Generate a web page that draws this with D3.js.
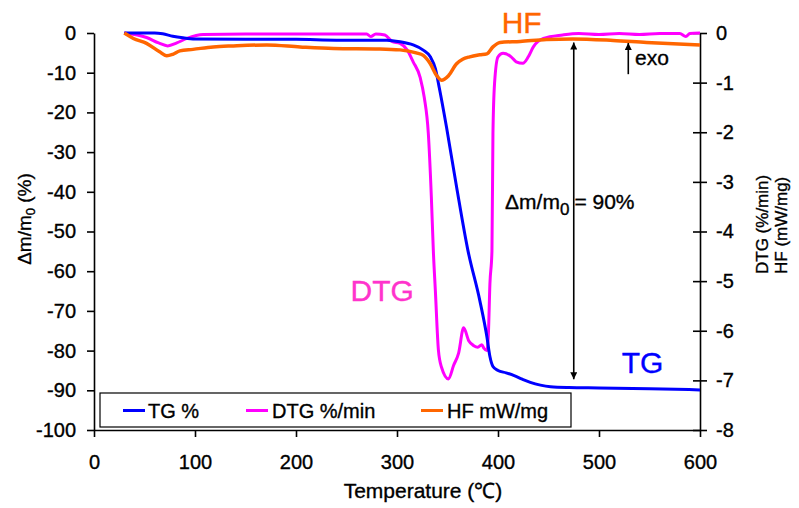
<!DOCTYPE html>
<html><head><meta charset="utf-8">
<script src="https://cdn.jsdelivr.net/npm/d3@7"></script>
<style>
body{margin:0;background:#fff}
svg{display:block}
text{font-family:"Liberation Sans",Arial,Helvetica,sans-serif}
</style>
</head><body>
<svg id="c" width="799" height="508"></svg>
<script>
// ---- data (temperature °C, value) ----
const xTicks = [0,100,200,300,400,500,600];
const leftTicks = [0,-10,-20,-30,-40,-50,-60,-70,-80,-90,-100];
const rightTicks = [0,-1,-2,-3,-4,-5,-6,-7,-8];

const tgData = [[30,0],[60,0],[68,-0.2],[78,-0.8],[88,-1.2],[100,-1.5],[150,-1.6],[200,-1.6],[240,-1.8],[290,-1.8],[303,-2.2],[316,-3.0],[326,-4.3],[333,-6.0],[338,-9.0],[342,-14],[349,-23.7],[359,-38.8],[370,-54.5],[382,-67.4],[389,-76.5],[392,-81.5],[395,-84.0],[400,-85.0],[408,-85.6],[416,-86.3],[424,-87.2],[432,-88.0],[442,-88.7],[452,-89.1],[470,-89.3],[500,-89.4],[550,-89.6],[600,-89.9]];

const dtgData = [[30,0],[52,-0.09],[64,-0.2],[73,-0.26],[82,-0.2],[92,-0.11],[108,-0.03],[150,-0.02],[200,-0.02],[250,-0.02],[270,-0.02],[274,-0.07],[279,-0.02],[288,-0.04],[295,-0.17],[303,-0.21],[310,-0.34],[316,-0.58],[323,-0.9],[327,-1.3],[331,-2.02],[334,-3.3],[336,-4.4],[338,-5.2],[341,-6.39],[344,-6.73],[351,-6.97],[356,-6.7],[361,-6.45],[366,-5.94],[371,-6.2],[376,-6.3],[380,-6.33],[384,-6.28],[386,-6.35],[389,-6.4],[390.5,-6.06],[392,-5.05],[394,-4.4],[395,-2.02],[396.6,-1.01],[400,-0.48],[405,-0.41],[413,-0.48],[418,-0.58],[424.6,-0.61],[430,-0.48],[435,-0.28],[445,-0.11],[464,-0.04],[480,-0.01],[500,-0.03],[520,-0.01],[540,-0.03],[560,-0.01],[580,-0.01],[586,-0.07],[590,-0.01],[600,0]];

const hfData = [[30,0],[39,-0.11],[52,-0.21],[65,-0.38],[72,-0.46],[78,-0.43],[85,-0.36],[98,-0.33],[118,-0.28],[138,-0.26],[171,-0.24],[204,-0.28],[237,-0.31],[283,-0.32],[303,-0.34],[319,-0.40],[326,-0.45],[333,-0.62],[339,-0.85],[344,-0.95],[351,-0.86],[359,-0.62],[365,-0.53],[372,-0.48],[382,-0.44],[389,-0.42],[395,-0.28],[402,-0.19],[422,-0.17],[448,-0.13],[474,-0.12],[514,-0.15],[547,-0.19],[600,-0.24]];

const legendLabels = ["TG %","DTG %/min","HF mW/mg"];
const colors = {tg:"#0000FF", dtg:"#FF00FF", hf:"#FF6600"};

// ---- scales ----
const svg = d3.select("#c");
const x = d3.scaleLinear().domain([0,600]).range([94,700]);
const yL = d3.scaleLinear().domain([-100,0]).range([430,33]);
const yR = d3.scaleLinear().domain([-8,0]).range([430,33]);

// ---- axes ----
const fmt = d => String(d);
const gL = svg.append("g").attr("transform","translate(94,0)")
  .call(d3.axisLeft(yL).tickValues(leftTicks).tickSize(7).tickSizeOuter(0).tickPadding(11).tickFormat(fmt));
const gR = svg.append("g").attr("transform","translate(700,0)")
  .call(d3.axisRight(yR).tickValues(rightTicks).tickSize(7).tickSizeOuter(0).tickPadding(9).tickFormat(fmt));
gR.selectAll(".tick line").attr("x1",-7);
const gB = svg.append("g").attr("transform","translate(0,430)")
  .call(d3.axisBottom(x).tickValues(xTicks).tickSize(7).tickSizeOuter(0).tickPadding(18).tickFormat(fmt));

[gL,gR,gB].forEach(g=>{
  g.selectAll("path.domain").attr("stroke","#000").attr("stroke-width",1.6);
  g.selectAll(".tick line").attr("stroke","#000").attr("stroke-width",1.6);
  g.selectAll(".tick text").attr("fill","#000").style("font-size","20px")
   .style("font-family",'"Liberation Sans",Arial,sans-serif');
});

// ---- lines ----
const lineL = d3.line().x(d=>x(d[0])).y(d=>yL(d[1])).curve(d3.curveMonotoneX);
const lineR = d3.line().x(d=>x(d[0])).y(d=>yR(d[1])).curve(d3.curveMonotoneX);

svg.append("path").datum(dtgData).attr("d",lineR).attr("fill","none")
  .attr("stroke",colors.dtg).attr("stroke-width",3).attr("stroke-linejoin","round");
svg.append("path").datum(tgData).attr("d",lineL).attr("fill","none")
  .attr("stroke",colors.tg).attr("stroke-width",3).attr("stroke-linejoin","round");
svg.append("path").datum(hfData).attr("d",lineR).attr("fill","none")
  .attr("stroke",colors.hf).attr("stroke-width",3.5).attr("stroke-linejoin","round");

// ---- arrow markers ----
const defs = svg.append("defs");
defs.append("marker").attr("id","ah").attr("viewBox","0 0 10 10")
  .attr("refX",10).attr("refY",5).attr("markerWidth",10).attr("markerHeight",7)
  .attr("markerUnits","userSpaceOnUse").attr("orient","auto-start-reverse")
  .append("path").attr("d","M0,0 L10,5 L0,10 Z").attr("fill","#000");

// double arrow Δm/m0 = 90%
svg.append("line").attr("x1",x(475)).attr("x2",x(475))
  .attr("y1",yL(-2.4)).attr("y2",yL(-87.2))
  .attr("stroke","#000").attr("stroke-width",1.6)
  .attr("marker-start","url(#ah)").attr("marker-end","url(#ah)");

// exo arrow
svg.append("line").attr("x1",x(529)).attr("x2",x(529))
  .attr("y1",yR(-0.83)).attr("y2",yR(-0.2))
  .attr("stroke","#000").attr("stroke-width",1.6)
  .attr("marker-end","url(#ah)");

// ---- annotations ----
svg.append("text").attr("x",x(535.6)).attr("y",yR(-0.645))
  .style("font-size","21px").attr("fill","#000").text("exo");

const dm = svg.append("text").attr("x",x(407)).attr("y",yL(-44.4))
  .style("font-size","21px").attr("fill","#000");
dm.append("tspan").text("\u0394m/m");
dm.append("tspan").attr("dy",6).style("font-size","17px").text("0");
dm.append("tspan").attr("dy",-6).attr("dx",5).text("= 90%");

svg.append("text").attr("x",x(403.6)).attr("y",yL(-0.1))
  .style("font-size","30px").attr("fill","#FF6600").text("HF");
svg.append("text").attr("x",x(254)).attr("y",yL(-67.4))
  .style("font-size","30px").attr("fill","#FF33CC").text("DTG");
svg.append("text").attr("x",x(522.5)).attr("y",yL(-85.6))
  .style("font-size","30px").attr("fill","#0000FF").text("TG");

// ---- axis titles ----
svg.append("text").attr("x",423).attr("y",498).attr("text-anchor","middle")
  .style("font-size","21px").attr("fill","#000").text("Temperature (\u2103)");

const lt = svg.append("text").attr("transform","translate(31,219) rotate(-90)")
  .attr("text-anchor","middle").style("font-size","19px").attr("fill","#000");
lt.append("tspan").text("\u0394m/m");
lt.append("tspan").attr("dy",4).style("font-size","13px").text("0");
lt.append("tspan").attr("dy",-4).text(" (%)");

svg.append("text").attr("transform","translate(767.5,274) rotate(-90)")
  .style("font-size","17px").attr("fill","#000").text("DTG (%/min)");
svg.append("text").attr("transform","translate(787,274) rotate(-90)")
  .style("font-size","17px").attr("fill","#000").text("HF (mW/mg)");

// ---- legend ----
const lg = svg.append("g");
lg.append("rect").attr("x",100).attr("y",393).attr("width",471).attr("height",34)
  .attr("fill","#fff").attr("stroke","#000").attr("stroke-width",1.2);
const items = [
  {label:legendLabels[0], color:colors.tg, lx:123, tx:148},
  {label:legendLabels[1], color:colors.dtg, lx:246, tx:272},
  {label:legendLabels[2], color:colors.hf, lx:421, tx:447}
];
items.forEach(it=>{
  lg.append("line").attr("x1",it.lx).attr("x2",it.lx+22).attr("y1",410.5).attr("y2",410.5)
    .attr("stroke",it.color).attr("stroke-width",3);
  lg.append("text").attr("x",it.tx).attr("y",418).style("font-size","20px")
    .attr("fill","#000").text(it.label);
});

// slightly heavier text rendering, as in the reference
svg.selectAll("text").each(function(){
  const s = d3.select(this);
  s.attr("stroke", s.attr("fill") || "#000").attr("stroke-width",0.35);
});
</script>
</body></html>
